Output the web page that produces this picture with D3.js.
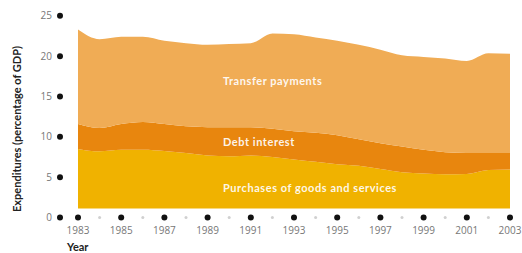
<!DOCTYPE html>
<html><head><meta charset="utf-8">
<script src="https://cdn.jsdelivr.net/npm/d3@7"></script>
<style>body{margin:0;background:#fff}svg{display:block}</style>
</head><body>
<svg id="c" width="522" height="253"></svg>
<script>
const years = d3.range(1983, 2004);
const purchases = [8.5,8.2,8.4,8.4,8.25,8.0,7.7,7.6,7.7,7.5,7.2,6.9,6.6,6.4,6.0,5.6,5.45,5.35,5.4,5.9,5.95];
const debtInterest = [3.1,2.9,3.2,3.45,3.35,3.3,3.5,3.6,3.5,3.5,3.5,3.6,3.6,3.3,3.2,3.2,2.95,2.75,2.6,2.1,2.05];
const transfers = [11.7,11.0,10.8,10.55,10.3,10.3,10.2,10.3,10.4,11.8,12.0,11.8,11.7,11.7,11.6,11.3,11.5,11.6,11.4,12.35,12.3];
const yTicks = [0,5,10,15,20,25];
const xLabelYears = [1983,1985,1987,1989,1991,1993,1995,1997,1999,2001,2003];
const seriesNames = ["Purchases of goods and services","Debt interest","Transfer payments"];
const seriesColors = ["#F0B200","#E8860E","#F0AC55"];

const svg = d3.select("#c");
const x = d3.scaleLinear().domain([1983,2003]).range([78,510]);
const y = d3.scaleLinear().domain([0,25]).range([217.5,15.8]);

const rows = years.map((yr,i)=>({year:yr, p:purchases[i], d:debtInterest[i], t:transfers[i]}));
const stack = d3.stack().keys(["p","d","t"])(rows);

const plotBottom = y(0) - 9;
svg.append("clipPath").attr("id","clp").append("rect")
  .attr("x",x(1983)).attr("y",0).attr("width",x(2003)-x(1983)).attr("height",plotBottom);

const area = d3.area().x(d=>x(d.data.year)).y0(d=>y(d[0])).y1(d=>y(d[1])).curve(d3.curveMonotoneX);
svg.append("g").attr("clip-path","url(#clp)").selectAll("path").data(stack).join("path")
  .attr("d",area).attr("fill",(d,i)=>seriesColors[i]);

// series labels
const labelPos = [[223,192],[223,146],[223,85]];
svg.append("g").selectAll("text").data(seriesNames).join("text")
  .attr("x",(d,i)=>labelPos[i][0]).attr("y",(d,i)=>labelPos[i][1])
  .attr("fill","#fff").attr("fill-opacity",0.92).attr("font-family","Lato, 'Open Sans', sans-serif").attr("font-weight","bold")
  .attr("font-size",11).attr("letter-spacing",0.55).text(d=>d);

// y axis dots and labels
const ya = svg.append("g");
ya.selectAll("circle").data(yTicks).join("circle").attr("cx",60).attr("cy",d=>y(d)).attr("r",3).attr("fill","#111");
ya.selectAll("text").data(yTicks).join("text").attr("x",52).attr("y",d=>y(d)+3.5)
  .attr("text-anchor","end").attr("fill","#777").attr("font-family","'Open Sans', sans-serif").attr("font-size",10).text(d=>d);

// x axis dots
const xa = svg.append("g");
xa.selectAll("circle").data(years).join("circle").attr("cx",d=>x(d)).attr("cy",y(0))
  .attr("r",d=>d%2?3:1.5).attr("fill",d=>d%2?"#111":"#d0d0d0");
xa.selectAll("text").data(xLabelYears).join("text").attr("x",d=>x(d)).attr("y",234)
  .attr("text-anchor","middle").attr("fill","#777").attr("font-family","'Open Sans', sans-serif").attr("font-size",10).text(d=>d);

svg.append("text").attr("x",67).attr("y",250.5).attr("fill","#222").attr("font-family","Lato, 'Open Sans', sans-serif")
  .attr("font-weight","bold").attr("font-size",11).text("Year");
svg.append("text").attr("transform","translate(21,129) rotate(-90)").attr("text-anchor","middle")
  .attr("fill","#222").attr("font-family","Lato, 'Open Sans', sans-serif").attr("font-weight","bold").attr("font-size",11)
  .text("Expenditures (percentage of GDP)");
</script>
</body></html>
